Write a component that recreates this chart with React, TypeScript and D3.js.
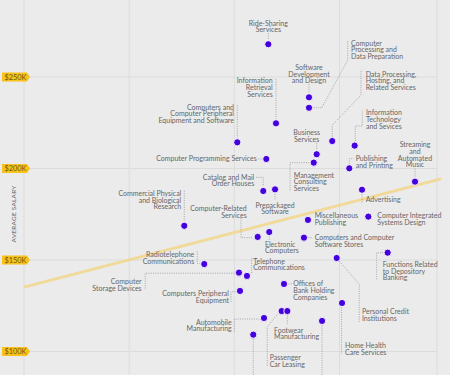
import React from "react";
import * as d3 from "d3";

// ---- data ----
const industries = [
  "Ride-Sharing Services",
  "Software Development and Design",
  "Computer Processing and Data Preparation",
  "Information Retrieval Services",
  "Computers and Computer Peripheral Equipment and Software",
  "Data Processing, Hosting, and Related Services",
  "Business Services",
  "Information Technology and Sevices",
  "Computer Programming Services",
  "Management Consulting Services",
  "Publishing and Printing",
  "Streaming and Automated Music",
  "Catalog and Mail Order Houses",
  "Prepackaged Software",
  "Commercial Physical and Biological Research",
  "Computer-Related Services",
  "Electronic Computers",
  "Miscellaneous Publishing",
  "Advertising",
  "Computer Integrated Systems Design",
  "Computers and Computer Software Stores",
  "Functions Related to Depository Banking",
  "Personal Credit Institutions",
  "Radiotelephone Communications",
  "Computer Storage Devices",
  "Telephone Communications",
  "Offices of Bank Holding Companies",
  "Computers Peripheral Equipment",
  "Automobile Manufacturing",
  "Passenger Car Leasing",
  "Footwear Manufacturing",
  "Home Health Care Services",
  "(label below view) A",
  "(label below view) B",
];
const xValues = [
  2.323, 2.71, 2.71, 2.396, 2.028, 2.931, 2.783, 3.144, 2.304, 2.755, 3.093,
  3.718, 2.275, 2.387, 1.524, 2.222, 2.332, 2.7, 3.214, 3.274, 2.662, 3.458,
  2.973, 1.714, 2.044, 2.12, 2.472, 2.054, 2.282, 2.45, 2.504, 3.024, 2.18,
  2.834,
];
const salaries = [
  267.9, 238.9, 233.2, 224.7, 214.3, 215.0, 207.8, 212.5, 205.2, 203.2, 200.1,
  192.8, 187.7, 188.6, 168.7, 162.6, 165.3, 171.9, 188.4, 173.7, 162.2, 154.0,
  151.1, 147.8, 143.1, 141.3, 136.9, 133.1, 118.3, 122.1, 122.1, 126.5, 109.2,
  116.7,
];
const yTicks = [100, 150, 200, 250];
const yTickLabels = ["$100K", "$150K", "$200K", "$250K"];
const xGrid = [0, 1, 2, 3];
const trendX = [0, 3.965];
const trendY = [135.2, 194.3];
const axisTitle = "AVERAGE SALARY";

// ---- label layout (pixel offsets from each dot) ----
type Lay = {
  lines: string[];
  anchor: "start" | "middle" | "end";
  dx: number;
  dy: number;
  leader: number[][];
};
const layout: Lay[] = [
  { lines: ["Ride-Sharing", "Services"], anchor: "middle", dx: 0, dy: -21, leader: [[0, -11], [0, -4.5]] },
  { lines: ["Software", "Development", "and Design"], anchor: "middle", dx: 0, dy: -29.6, leader: [[0, -13], [0, -4.5]] },
  { lines: ["Computer", "Processing and", "Data Preparation"], anchor: "start", dx: 42, dy: -64.4, leader: [[4.5, 0], [12.7, 0], [38.7, -47.7], [38.7, -68]] },
  { lines: ["Information", "Retrieval", "Services"], anchor: "end", dx: -3.3, dy: -42.3, leader: [[0, -44], [0, -4.5]] },
  { lines: ["Computers and", "Computer Peripheral", "Equipment and Software"], anchor: "end", dx: -3.3, dy: -35, leader: [[0, -37], [0, -4.5]] },
  { lines: ["Data Processing,", "Hosting, and", "Related Services"], anchor: "start", dx: 33.4, dy: -67, leader: [[0, -4.5], [0, -16], [28.7, -46], [28.7, -70]] },
  { lines: ["Business", "Services"], anchor: "middle", dx: -10, dy: -21.6, leader: [[0, -11], [0, -4.5]] },
  { lines: ["Information", "Technology", "and Sevices"], anchor: "start", dx: 11.3, dy: -32.7, leader: [[0.6, -4.5], [0.6, -19.7], [7.6, -19.7], [7.6, -35]] },
  { lines: ["Computer Programming Services"], anchor: "end", dx: -9.6, dy: -0.5, leader: [[-8, 0], [-4.5, 0]] },
  { lines: ["Management", "Consulting", "Services"], anchor: "start", dx: -20, dy: 12.6, leader: [[-4.5, 0], [-23.7, 0], [-23.7, 28]] },
  { lines: ["Publishing", "and Printing"], anchor: "start", dx: 6.4, dy: -9.6, leader: [[0, -4.5], [0, -9.6], [4.5, -9.6]] },
  { lines: ["Streaming", "and", "Automated", "Music"], anchor: "middle", dx: 0, dy: -36.7, leader: [[0, -13], [0, -4.5]] },
  { lines: ["Catalog and Mail", "Order Houses"], anchor: "end", dx: -9, dy: -13.7, leader: [[-7, -13.7], [0, -13.7], [0, -4.5]] },
  { lines: ["Prepackaged", "Software"], anchor: "middle", dx: 0, dy: 15.7, leader: [[0, 4.5], [0, 10]] },
  { lines: ["Commercial Physical", "and Biological", "Research"], anchor: "end", dx: -3, dy: -32, leader: [[0, -35], [0, -4.5]] },
  { lines: ["Computer-Related", "Services"], anchor: "end", dx: -11, dy: -28.3, leader: [[-16.7, -19], [-16.7, 0.7], [-4.5, 0.7]] },
  { lines: ["Electronic", "Computers"], anchor: "start", dx: -4.3, dy: 12.3, leader: [[0, 4.5], [0, 8]] },
  { lines: ["Miscellaneous", "Publishing"], anchor: "start", dx: 6.7, dy: -4, leader: [] },
  { lines: ["Advertising"], anchor: "start", dx: 3.7, dy: 10.3, leader: [[0, 4.5], [0, 14]] },
  { lines: ["Computer Integrated", "Systems Design"], anchor: "start", dx: 9, dy: -0.7, leader: [] },
  { lines: ["Computers and Computer", "Software Stores"], anchor: "start", dx: 10.7, dy: 0, leader: [[4.5, 0], [9, 0]] },
  { lines: ["Functions Related", "to Depository", "Banking"], anchor: "start", dx: -5, dy: 12, leader: [[-4.5, 0], [-11, 0], [-11, 28]] },
  { lines: ["Personal Credit", "Institutions"], anchor: "start", dx: 25.3, dy: 54, leader: [[3, 3.5], [22.6, 26.3], [22.6, 64]] },
  { lines: ["Radiotelephone", "Communications"], anchor: "end", dx: -10, dy: -9, leader: [[-7, -12.3], [-7, -0.5], [-4.5, -0.5]] },
  { lines: ["Computer", "Storage Devices"], anchor: "end", dx: -97.3, dy: 9, leader: [[-4.5, 0.6], [-93.7, 0.6], [-93.7, 17.3]] },
  { lines: ["Telephone", "Communications"], anchor: "start", dx: 6.3, dy: -14.7, leader: [[4.7, -17.7], [4.7, -2.7]] },
  { lines: ["Offices of", "Bank Holding", "Companies"], anchor: "start", dx: 9.3, dy: 0, leader: [[4.5, 0], [8, 0]] },
  { lines: ["Computers Peripheral", "Equipment"], anchor: "end", dx: -11, dy: 3, leader: [[-4.5, 0.7], [-9, 0.7], [-9, 12.3]] },
  { lines: ["Automobile", "Manufacturing"], anchor: "end", dx: -32.3, dy: 4.3, leader: [[-4.5, 1], [-29.7, 1], [-29.7, 13.7]] },
  { lines: ["Passenger", "Car Leasing"], anchor: "start", dx: -12, dy: 46.7, leader: [[-3.4, 2.3], [-14.4, 15.7], [-14.4, 55.7]] },
  { lines: ["Footwear", "Manufacturing"], anchor: "start", dx: -13.3, dy: 19.3, leader: [[0, 4.5], [0, 14]] },
  { lines: ["Home Health", "Care Services"], anchor: "start", dx: 3, dy: 43, leader: [[-0.5, 4.5], [-0.5, 51]] },
  { lines: [], anchor: "start", dx: 0, dy: 0, leader: [[0, 4.5], [0, 45]] },
  { lines: [], anchor: "start", dx: 0, dy: 0, leader: [[0, 4.5], [0, 60]] },
];

const W = 450;
const H = 375;
const FONT = "Lato, 'Open Sans', sans-serif";

export default function App() {
  const x = d3.scaleLinear().domain([0, 3.927]).range([24, 437]);
  const y = d3.scaleLinear().domain([100, 250]).range([351.5, 77]);
  const line = d3
    .line<number>()
    .x((_, i) => x(trendX[i]))
    .y((d) => y(d));
  const leaderLine = d3.line<number[]>().x((d) => d[0]).y((d) => d[1]);
  const lh = 6.6;

  return (
    <svg
      width={W}
      height={H}
      style={{ position: "fixed", left: 0, top: 0, display: "block" }}
      fontFamily={FONT}
    >
      <rect width={W} height={H} fill="#ebebeb" />
      {/* grid */}
      {yTicks.map((t) => (
        <line key={"gy" + t} x1={24} x2={437} y1={y(t)} y2={y(t)} stroke="#dcdcdc" strokeWidth={1} />
      ))}
      {xGrid.map((t) => (
        <line key={"gx" + t} x1={x(t)} x2={x(t)} y1={0} y2={H} stroke="#dcdcdc" strokeWidth={1} />
      ))}
      <line x1={x(3.927)} x2={x(3.927)} y1={0} y2={H} stroke="#dcdcdc" strokeWidth={1} />

      {/* trend */}
      <path d={line(trendY) || ""} fill="none" stroke="#f2d68a" strokeWidth={2.8} opacity={0.85} />

      {/* y tick tags */}
      {yTicks.map((t, i) => {
        const cy = y(t);
        const p = `M2,${cy - 4.5} L27,${cy - 4.5} L30,${cy} L27,${cy + 4.5} L2,${cy + 4.5} Z`;
        return (
          <g key={"tag" + t}>
            <path d={p} fill="#f7c21b" />
            <text x={15.5} y={cy} dy="0.35em" textAnchor="middle" fontSize={7.3} fill="#6b5510">
              {yTickLabels[i]}
            </text>
          </g>
        );
      })}
      <text
        transform={`translate(14,214) rotate(-90)`}
        textAnchor="middle"
        fontSize={6.5}
        fill="#666"
        dy="0.35em"
        letterSpacing={0.2}
      >
        {axisTitle}
      </text>

      {/* leaders */}
      {industries.map((name, i) => {
        const cx = x(xValues[i]);
        const cy = y(salaries[i]);
        const L = layout[i];
        if (!L.leader.length) return null;
        return (
          <path
            key={"ld" + i}
            d={leaderLine(L.leader.map((p) => [cx + p[0], cy + p[1]])) || ""}
            fill="none"
            stroke="#8a8a8a"
            strokeWidth={0.7}
            strokeDasharray="1,1.3"
          />
        );
      })}

      {/* labels */}
      {industries.map((name, i) => {
        const cx = x(xValues[i]);
        const cy = y(salaries[i]);
        const L = layout[i];
        return (
          <text key={"lb" + i} fontSize={7} fill="#666666" textAnchor={L.anchor}>
            {L.lines.map((s, j) => (
              <tspan key={j} x={cx + L.dx} y={cy + L.dy + j * lh} dy="0.35em">
                {s}
              </tspan>
            ))}
          </text>
        );
      })}

      {/* dots */}
      {industries.map((name, i) => (
        <circle
          key={"pt" + i}
          cx={x(xValues[i])}
          cy={y(salaries[i])}
          r={3.6}
          fill="#4400dd"
          stroke="#ffffff"
          strokeWidth={0.9}
        >
          <title>{name}</title>
        </circle>
      ))}
    </svg>
  );
}
